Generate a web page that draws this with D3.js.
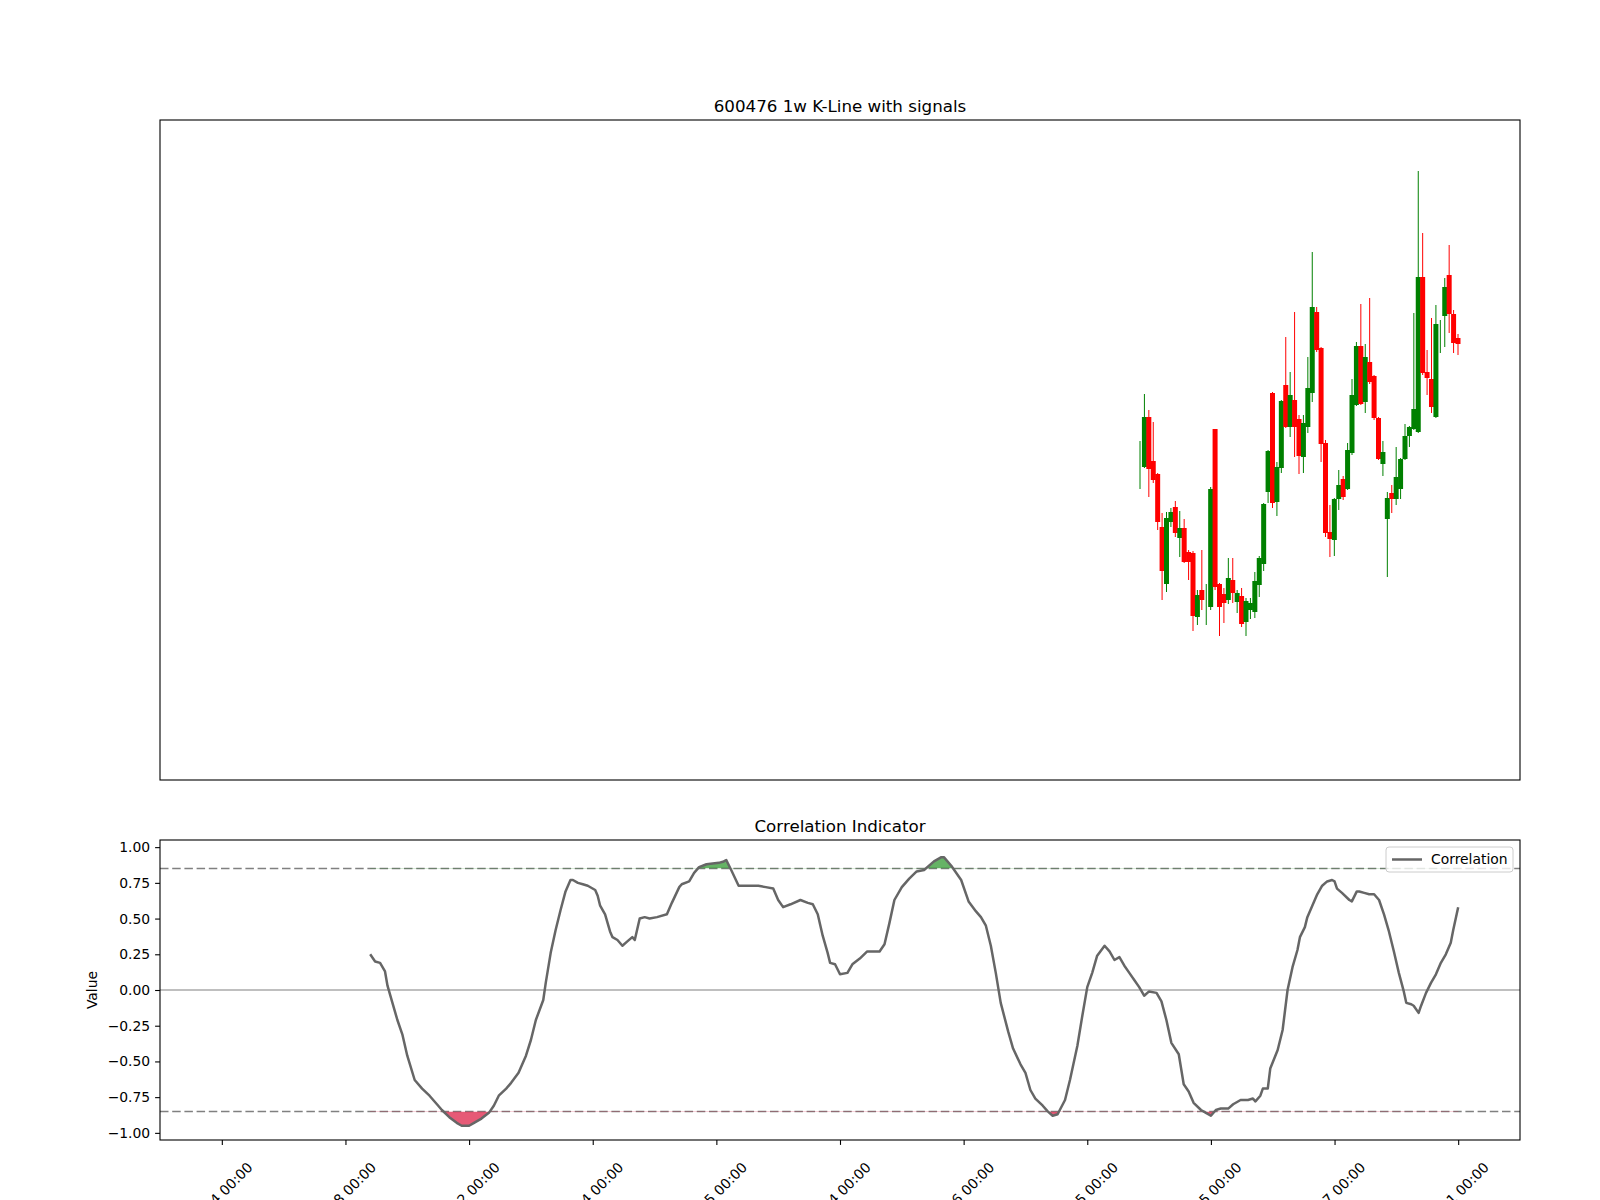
<!DOCTYPE html>
<html><head><meta charset="utf-8">
<script src="https://cdn.jsdelivr.net/npm/d3@7"></script>
<style>body{margin:0;background:#fff}svg{display:block;font-family:"DejaVu Sans",sans-serif}</style>
</head><body><svg id="c" width="1600" height="1200"></svg>
<script>
// ---------- data ----------
const candleOpen  = [16.75,16.65,19.15,16.95,16.30,13.65,10.80,13.90,14.65,13.10,13.60,12.40,12.35,9.15,10.50,10.05,9.65,18.55,10.80,10.30,10.00,11.00,9.90,10.20,8.90,9.50,9.40,10.75,11.80,15.40,20.35,14.90,16.60,20.75,18.65,20.00,19.05,17.15,18.65,20.35,24.40,22.60,17.85,13.40,13.00,15.05,16.05,15.55,17.35,19.75,22.70,19.90,21.90,21.20,19.10,16.80,14.05,15.35,15.05,15.55,17.05,18.20,18.55,18.40,26.15,21.40,21.05,19.15,23.55,24.20,26.25,24.30,23.10];
const candleHigh  = [17.95,20.30,19.50,18.90,16.35,14.35,14.40,14.60,14.95,14.45,14.05,12.50,12.45,10.50,12.50,10.80,15.65,18.55,10.85,10.60,12.10,12.10,10.50,10.60,10.10,10.10,11.40,12.20,14.85,17.50,20.40,16.90,20.00,23.15,21.40,24.40,19.25,19.25,22.15,27.40,24.65,22.65,18.00,14.75,15.10,16.50,16.20,17.85,21.05,22.90,24.80,22.80,25.10,21.25,19.15,17.95,15.40,15.75,17.65,17.10,18.80,18.70,24.35,31.45,28.35,22.50,24.10,24.75,24.00,26.10,27.75,24.50,23.30];
const candleLow   = [15.55,16.60,15.15,15.85,13.50,10.00,10.40,13.65,13.15,12.15,11.85,11.00,8.45,8.75,9.50,8.75,9.50,10.50,8.20,8.85,9.80,9.85,9.35,8.65,8.20,9.05,9.10,10.15,11.45,14.85,14.60,14.20,16.35,18.60,18.15,17.15,16.30,16.35,18.35,19.90,22.40,16.90,13.15,12.15,12.20,14.50,15.00,15.50,17.25,19.70,19.75,19.35,20.80,19.00,17.00,16.20,11.15,14.35,14.75,15.05,17.00,17.65,18.50,18.35,21.25,20.25,19.35,19.10,22.35,22.65,23.35,22.35,22.25];
const candleClose = [16.75,19.15,16.55,16.00,13.90,11.45,14.10,14.40,13.35,13.60,11.90,11.90,9.20,10.25,10.00,10.05,15.55,10.65,9.65,9.85,11.10,10.35,10.35,8.80,9.95,9.85,10.95,12.10,14.80,17.45,14.85,16.65,19.95,18.65,20.25,18.65,17.20,18.85,20.60,24.65,22.50,17.80,13.35,13.05,15.05,15.75,15.15,17.50,20.25,22.70,19.80,22.15,20.90,19.10,17.05,17.40,15.10,15.05,16.15,17.05,18.20,18.65,19.55,26.15,21.35,21.10,19.65,23.80,23.55,25.65,24.30,22.85,22.80];

const corrIndex = [60,62,64,66,67,69,71,73,75,78,81,84,87,89,92,95,97,100,102,105,108,110,112,115,117,120,123,125,127,130,131,133,135,137,139,141,142,144,146,148,151,152,153,155,157,158,160,162,164,166,167,169,171,173,176,180,182,185,186,189,191,193,196,201,203,204,206,209,213,217,220,223,225,227,230,234,237,239,241,243,245,246,248,250,253,255,258,261,266,268,270,272,275,278,281,284,288,291,292,295,299,302,305,307,309,311,313,315,318,320,323,325,327,329,332,334,336,338,341,343,346,348,350,352,354,357,359,361,363,365,367,369,371,373,375,378,380,382,384,387,389,391,393,396,398,400,402,404,407,409,412,415,417,418,420,421,423,424,427,429,430,431,433,435,436,438,439,441,443,445,447,449,450,451,453,456,457,459,460,462,464,466,468,470,472,474,476,478,479,481,482,484,485,487,489,491,493,495,497,498,500];
const corrValue = [0.25,0.20,0.19,0.13,0.03,-0.09,-0.21,-0.31,-0.46,-0.63,-0.69,-0.74,-0.80,-0.84,-0.89,-0.93,-0.95,-0.95,-0.93,-0.90,-0.86,-0.81,-0.74,-0.69,-0.65,-0.58,-0.46,-0.35,-0.21,-0.07,0.05,0.26,0.42,0.56,0.69,0.77,0.77,0.75,0.74,0.73,0.70,0.66,0.59,0.53,0.41,0.37,0.35,0.31,0.34,0.37,0.35,0.50,0.51,0.50,0.51,0.53,0.61,0.72,0.74,0.76,0.82,0.86,0.88,0.89,0.90,0.91,0.84,0.73,0.73,0.73,0.72,0.71,0.63,0.58,0.60,0.63,0.61,0.60,0.53,0.38,0.26,0.19,0.18,0.11,0.12,0.18,0.22,0.27,0.27,0.32,0.47,0.63,0.72,0.78,0.83,0.84,0.90,0.93,0.93,0.87,0.77,0.62,0.55,0.51,0.45,0.31,0.12,-0.09,-0.29,-0.41,-0.52,-0.58,-0.70,-0.76,-0.81,-0.85,-0.88,-0.87,-0.77,-0.63,-0.39,-0.18,0.02,0.12,0.24,0.31,0.27,0.21,0.23,0.17,0.12,0.07,0.02,-0.04,-0.01,-0.02,-0.08,-0.21,-0.37,-0.45,-0.66,-0.71,-0.79,-0.84,-0.86,-0.88,-0.84,-0.83,-0.83,-0.80,-0.77,-0.77,-0.76,-0.78,-0.74,-0.69,-0.69,-0.55,-0.42,-0.28,-0.14,0.00,0.16,0.28,0.37,0.44,0.51,0.59,0.67,0.73,0.76,0.77,0.76,0.71,0.68,0.63,0.62,0.69,0.69,0.68,0.67,0.67,0.63,0.53,0.41,0.27,0.12,-0.01,-0.09,-0.10,-0.11,-0.16,-0.11,-0.02,0.05,0.11,0.19,0.25,0.33,0.42,0.58];

const xTickValues = [0,50,100,150,200,250,300,350,400,450,500];
const xTickLabels = ["01-04 00:00","03-18 00:00","06-02 00:00","08-14 00:00","10-25 00:00","01-14 00:00","03-26 00:00","06-05 00:00","08-15 00:00","10-27 00:00","01-11 00:00"];
const yTickValues = [-1.00,-0.75,-0.50,-0.25,0.00,0.25,0.50,0.75,1.00];
const thresholds = [0.85,-0.85];
const titleTop = "600476 1w K-Line with signals";
const titleBottom = "Correlation Indicator";
const yLabel = "Value";
const legendLabel = "Correlation";

// ---------- layout ----------
const svg = d3.select("#c");
const L = 160, R = 1520;
const top1 = 120, bot1 = 780, top2 = 840, bot2 = 1140;
const FS = 13.9;
const lineColor = "#666666";

// ---------- top panel ----------
const yPrice = d3.scaleLinear().domain([1, 34]).range([bot1, top1]);
const xCandle = d3.scalePoint().domain(d3.range(candleOpen.length)).range([1140, 1458]);
const candles = candleOpen.map((o, i) => ({o, h: candleHigh[i], l: candleLow[i], c: candleClose[i], i}));
const gC = svg.append("g");
candles.forEach(d => {
  const col = d.c >= d.o ? "#008000" : "#ff0000";
  const cx = xCandle(d.i);
  gC.append("line").attr("x1", cx).attr("x2", cx).attr("y1", yPrice(d.h)).attr("y2", yPrice(d.l))
    .attr("stroke", col).attr("stroke-width", 1);
  const yt = yPrice(Math.max(d.o, d.c)), yb = yPrice(Math.min(d.o, d.c));
  if (yb - yt > 0) gC.append("rect").attr("x", cx - 2.5).attr("width", 5).attr("y", yt).attr("height", yb - yt).attr("fill", col);
});
svg.append("rect").attr("x", L).attr("y", top1).attr("width", R - L).attr("height", bot1 - top1)
  .attr("fill", "none").attr("stroke", "#000").attr("stroke-width", 1.1);
svg.append("text").attr("x", (L + R) / 2).attr("y", top1 - 8.3).attr("text-anchor", "middle")
  .attr("font-size", 16.7).text(titleTop);

// ---------- bottom panel ----------
const x = d3.scaleLinear().domain([-25, 525]).range([L, R]);
const y = d3.scaleLinear().domain([-1.05, 1.05]).range([bot2, top2]);
const corr = corrIndex.map((v, i) => [v, corrValue[i]]);

const defs = svg.append("defs");
defs.append("clipPath").attr("id", "plot").append("rect").attr("x", L).attr("y", top2).attr("width", R - L).attr("height", bot2 - top2);
defs.append("clipPath").attr("id", "above").append("rect").attr("x", L).attr("y", top2).attr("width", R - L).attr("height", y(thresholds[0]) - top2);
defs.append("clipPath").attr("id", "below").append("rect").attr("x", L).attr("y", y(thresholds[1])).attr("width", R - L).attr("height", bot2 - y(thresholds[1]));

const g2 = svg.append("g").attr("clip-path", "url(#plot)");
g2.append("line").attr("x1", L).attr("x2", R).attr("y1", y(0)).attr("y2", y(0)).attr("stroke", "#aaaaaa").attr("stroke-width", 1.6);
thresholds.forEach(t => g2.append("line").attr("x1", L).attr("x2", R).attr("y1", y(t)).attr("y2", y(t))
  .attr("stroke", "#808080").attr("stroke-width", 1.6).attr("stroke-dasharray", "8.5,3.7"));
g2.append("path").datum(corr).attr("clip-path", "url(#above)")
  .attr("d", d3.area().x(d => x(d[0])).y0(y(thresholds[0])).y1(d => y(d[1])))
  .attr("fill", "#008000").attr("fill-opacity", 0.6);
g2.append("path").datum(corr).attr("clip-path", "url(#below)")
  .attr("d", d3.area().x(d => x(d[0])).y0(y(thresholds[1])).y1(d => y(d[1])))
  .attr("fill", "#dc143c").attr("fill-opacity", 0.7);
g2.append("path").datum(corr).attr("d", d3.line().x(d => x(d[0])).y(d => y(d[1])))
  .attr("fill", "none").attr("stroke", lineColor).attr("stroke-width", 2.5).attr("stroke-linejoin", "round");

// axes
const ya = svg.append("g").attr("transform", `translate(${L},0)`)
  .call(d3.axisLeft(y).tickValues(yTickValues).tickFormat(d3.format(".2f")).tickSize(4.9).tickSizeOuter(0).tickPadding(4.9));
ya.select(".domain").remove();
ya.selectAll("text").attr("font-size", FS).attr("font-family", "DejaVu Sans").attr("fill", "#000");
ya.selectAll("line").attr("stroke", "#000").attr("stroke-width", 1.1);

const xa = svg.append("g").attr("transform", `translate(0,${bot2})`)
  .call(d3.axisBottom(x).tickValues(xTickValues).tickFormat((d, i) => xTickLabels[i]).tickSize(4.9).tickSizeOuter(0));
xa.select(".domain").remove();
xa.selectAll("line").attr("stroke", "#000").attr("stroke-width", 1.1);
xa.selectAll("text").attr("font-size", FS).attr("font-family", "DejaVu Sans").attr("fill", "#000")
  .attr("text-anchor", "end").attr("dy", "0.32em").attr("y", 0).attr("x", 0)
  .attr("transform", "translate(28,25) rotate(-45)");

svg.append("rect").attr("x", L).attr("y", top2).attr("width", R - L).attr("height", bot2 - top2)
  .attr("fill", "none").attr("stroke", "#000").attr("stroke-width", 1.1);
svg.append("text").attr("x", (L + R) / 2).attr("y", top2 - 8.3).attr("text-anchor", "middle")
  .attr("font-size", 16.7).text(titleBottom);
svg.append("text").attr("transform", `translate(97,${(top2 + bot2) / 2}) rotate(-90)`).attr("text-anchor", "middle")
  .attr("font-size", FS).text(yLabel);

// legend
const lg = svg.append("g");
lg.append("rect").attr("x", 1386).attr("y", 847).attr("width", 127).attr("height", 25).attr("rx", 3)
  .attr("fill", "#fff").attr("fill-opacity", 0.8).attr("stroke", "#cccccc").attr("stroke-width", 1);
lg.append("line").attr("x1", 1392).attr("x2", 1422).attr("y1", 859.5).attr("y2", 859.5).attr("stroke", lineColor).attr("stroke-width", 2.5);
lg.append("text").attr("x", 1431).attr("y", 859.5).attr("dy", "0.35em").attr("font-size", FS).text(legendLabel);
</script></body></html>
